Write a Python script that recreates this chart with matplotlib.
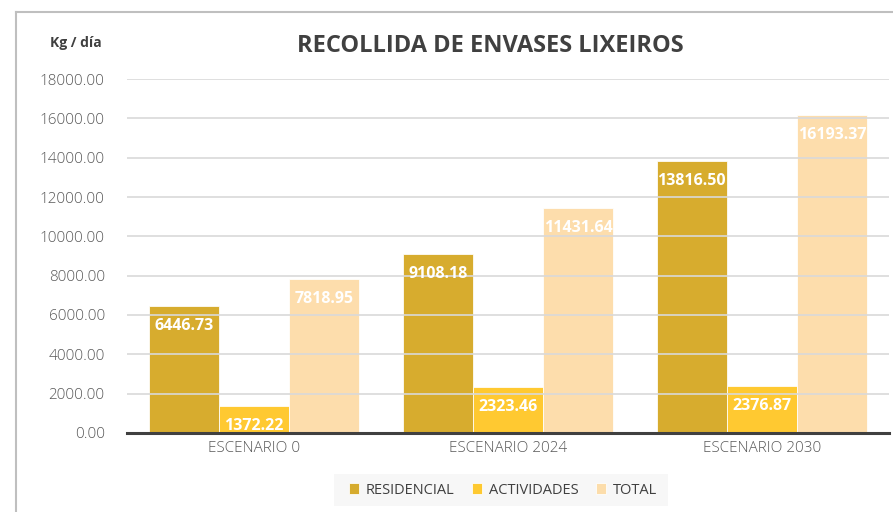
import matplotlib
matplotlib.use("Agg")
import matplotlib.pyplot as plt
import numpy as np
from matplotlib.lines import Line2D
from matplotlib.patches import Rectangle

categories = ["ESCENARIO 0", "ESCENARIO 2024", "ESCENARIO 2030"]
series_names = ["RESIDENCIAL", "ACTIVIDADES", "TOTAL"]
residencial = [6446.73, 9108.18, 13816.50]
actividades = [1372.22, 2323.46, 2376.87]
total = [7818.95, 11431.64, 16193.37]
yticks = [0, 2000, 4000, 6000, 8000, 10000, 12000, 14000, 16000, 18000]

colors = ["#D4A51C", "#FFC51F", "#FDDBA5"]

plt.rcParams['font.family'] = ['Open Sans', 'DejaVu Sans']
fig = plt.figure(figsize=(8.93, 5.12), dpi=100)
ax = fig.add_axes([0.1422, 0.1543, 0.853, 0.6914])

x = np.arange(len(categories))
w = 0.276
for i, (vals, c) in enumerate(zip([residencial, actividades, total], colors)):
    pos = x + (i - 1) * w
    ax.bar(pos, vals, width=w, color=c, alpha=0.92, edgecolor=(1, 1, 1, 0.5), linewidth=0.6, zorder=1, label=series_names[i])
    for p, v in zip(pos, vals):
        ax.annotate(f"{v:.2f}", (p, v), xytext=(0, -20), textcoords="offset pixels",
                    ha="center", va="center", color="white", fontsize=11.5, fontweight="bold", zorder=4)

ax.set_xlim(-0.5, 2.5)
ax.set_ylim(0, 18000)
ax.set_yticks(yticks)
ax.set_yticklabels([f"{t:.2f}" for t in yticks], fontsize=11, color="#595959", fontweight="light")
ax.set_xticks(x)
ax.set_xticklabels(categories, fontsize=11, color="#595959", fontweight="light")
ax.tick_params(axis="both", length=0, pad=6)
ax.tick_params(axis="y", pad=16)
ax.yaxis.grid(True, color="#D9D9D9", linewidth=1.2, zorder=2)
ax.set_axisbelow(False)
for g in ax.get_ygridlines():
    g.set_zorder(2)
for s in ["top", "right", "left"]:
    ax.spines[s].set_visible(False)
ax.spines["bottom"].set_color("#404040")
ax.spines["bottom"].set_linewidth(2.2)
ax.spines["bottom"].set_zorder(5)

fig.text(490 / 893, 1 - 46 / 512, "RECOLLIDA DE ENVASES LIXEIROS", ha="center", va="center",
         fontsize=17, fontweight="bold", color="#404040")
fig.text(76 / 893, 1 - 43 / 512, "Kg / día", ha="center", va="center",
         fontsize=10, fontweight="bold", color="#404040")

# legend background
fig.patches.append(Rectangle((334 / 893, 1 - 506 / 512), 334 / 893, 32 / 512,
                             transform=fig.transFigure, facecolor="#F7F7F7", edgecolor="none", zorder=0))
leg = fig.legend(loc="center", bbox_to_anchor=(503 / 893, 1 - 490 / 512), ncol=3, frameon=False,
                 fontsize=10.5, handlelength=0.7, handleheight=0.7, handletextpad=0.45, columnspacing=1.2,
                 labelcolor="#404040")

# frame border
fig.add_artist(Line2D([15.5 / 893, 15.5 / 893], [0, 1 - 12 / 512], transform=fig.transFigure, color="#BFBFBF", linewidth=1.5))
fig.add_artist(Line2D([15.5 / 893, 1], [1 - 12 / 512, 1 - 12 / 512], transform=fig.transFigure, color="#BFBFBF", linewidth=1.5))

fig.savefig("out.png", dpi=100)
